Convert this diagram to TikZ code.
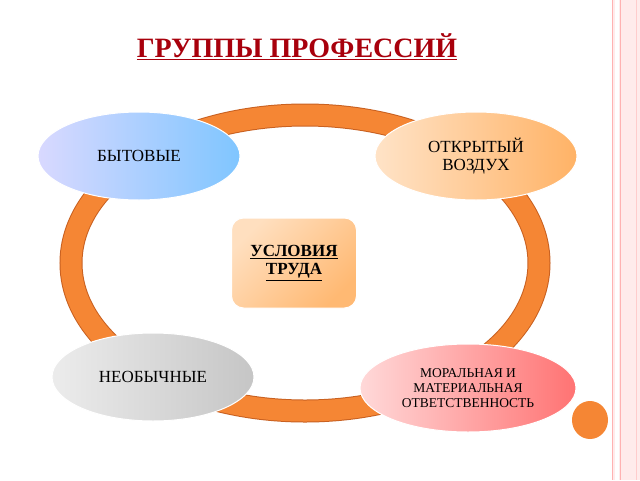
\documentclass[tikz,border=0pt]{standalone}
\usepackage{fontspec}
\setmainfont{Liberation Serif}
\usetikzlibrary{shapes.geometric}
\definecolor{ringc}{HTML}{F58634}
\definecolor{ringd}{HTML}{C86020}
\definecolor{titlec}{HTML}{A8000C}
\tikzset{
  oval/.style={ellipse, minimum width=202pt, minimum height=88pt, align=center, inner sep=0pt, font=\fontsize{17}{18}\selectfont, draw=white, line width=1pt},
}
\begin{document}
\begin{tikzpicture}[x=1pt,y=-1pt]
\useasboundingbox (0,0) rectangle (640,480);
\fill[white] (0,0) rectangle (640,480);
% right border
\fill[red!8] (612,0) rectangle (640,480);
\fill[white] (615,0) rectangle (619,480);
\draw[red!30, line width=0.8pt] (612,0) -- (612,480);
\draw[red!30, line width=0.8pt] (620,0) -- (620,480);
\draw[red!20, line width=0.6pt] (636,0) -- (636,480);
% title
\node[font=\bfseries\fontsize{28}{30}\selectfont, text=titlec] (title) at (297,47) {\underline{ГРУППЫ ПРОФЕССИЙ}};
% ring
\draw[ringd, line width=23pt] (305,263) ellipse [x radius=234, y radius=148];
\draw[ringc, line width=21pt] (305,263) ellipse [x radius=234, y radius=148];
% small circle
\fill[ringc] (590,420) ellipse [x radius=18, y radius=19];
% center
\node[draw=white, line width=1pt, rounded corners=12pt, minimum width=125pt, minimum height=90pt, top color=orange!25, bottom color=orange!55, shading angle=45, align=center, font=\bfseries\fontsize{17}{19}\selectfont] (c) at (294,263) {\underline{УСЛОВИЯ}\\[-1pt]\underline{ТРУДА}};
% ovals
\node[oval, left color=blue!15, right color=blue!45!cyan!50] (a) at (139,156) {БЫТОВЫЕ};
\node[oval, left color=orange!22, right color=orange!60] (b) at (476,156) {ОТКРЫТЫЙ\\ВОЗДУХ};
\node[oval, left color=gray!15, right color=gray!45] (d) at (153,377) {НЕОБЫЧНЫЕ};
\node[oval, minimum width=216pt, left color=red!15, right color=red!55, font=\fontsize{13.5}{15}\selectfont] (e) at (468,388) {МОРАЛЬНАЯ И\\МАТЕРИАЛЬНАЯ\\ОТВЕТСТВЕННОСТЬ};
\end{tikzpicture}
\end{document}
